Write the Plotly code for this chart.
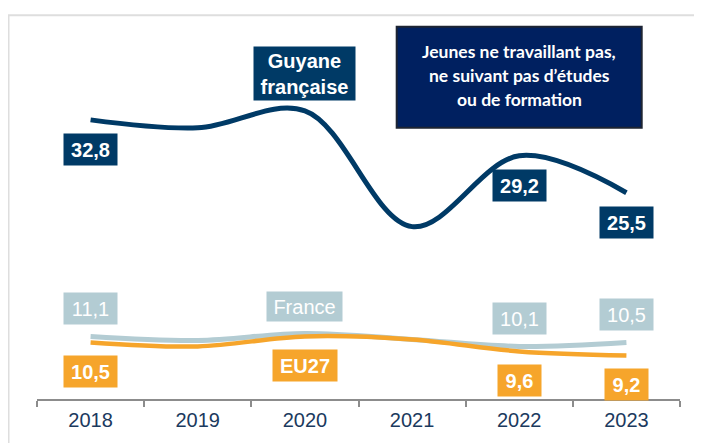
import plotly.graph_objects as go

years = ["2018", "2019", "2020", "2021", "2022", "2023"]
guyane = [32.8, 32.0, 33.7, 22.1, 29.2, 25.5]
france = [11.1, 10.7, 11.4, 10.8, 10.1, 10.5]
eu27 = [10.5, 10.1, 11.1, 10.8, 9.6, 9.2]

guyane_labels = {"2018": "32,8", "2022": "29,2", "2023": "25,5"}
france_labels = {"2018": "11,1", "2022": "10,1", "2023": "10,5"}
eu_labels = {"2018": "10,5", "2022": "9,6", "2023": "9,2"}
title_lines = ["Jeunes ne travaillant pas,", "ne suivant pas d\u2019\u00e9tudes", "ou de formation"]

NAVY = "#003a66"
GRAY = "#b3ccd3"
ORANGE = "#f6a52b"
TICK_COL = "#1b3a5e"

OFF = 8  # default page body margin
W, H = 702 - OFF, 443 - OFF
ML, MR, MT, MB = 37 - OFF, 22, 48 - OFF, 42
PW, PH = W - ML - MR, H - MT - MB


def px(x):
    return (x - OFF - ML) / PW


def py(y):
    return (H - MB - (y - OFF)) / PH


fig = go.Figure()
fig.add_trace(go.Scatter(x=years, y=france, mode="lines", name="France",
                         line=dict(color=GRAY, width=5, shape="spline", smoothing=1.0)))
fig.add_trace(go.Scatter(x=years, y=eu27, mode="lines", name="EU27",
                         line=dict(color=ORANGE, width=4.5, shape="spline", smoothing=1.0)))
fig.add_trace(go.Scatter(x=years, y=guyane, mode="lines", name="Guyane française",
                         line=dict(color=NAVY, width=5, shape="spline", smoothing=1.0)))

annotations = []
LBL_FONT = "Liberation Sans, Arial, sans-serif"


def box(yr, y, text, color, shift, w=53, h=31, bold=True):
    t = f"<b>{text}</b>" if bold else text
    annotations.append(dict(x=years.index(yr), y=y, xref="x", yref="y", text=t, showarrow=False,
                            yshift=shift, bgcolor=color, width=w, height=h, borderpad=0,
                            font=dict(family=LBL_FONT, size=20, color="white"),
                            align="center", valign="middle"))


for yr, t in guyane_labels.items():
    box(yr, guyane[years.index(yr)], t, NAVY, -30)
for yr, t in france_labels.items():
    box(yr, france[years.index(yr)], t, GRAY, 28, bold=False)
for yr, t in eu_labels.items():
    w = 53 if len(t) > 3 else 43
    box(yr, eu27[years.index(yr)], t, ORANGE, -29, w=w)

# series name labels
box("2020", guyane[2], "Guyane<br>française", NAVY, 37, w=101, h=53)
box("2020", france[2], "France", GRAY, 27, w=75, h=29, bold=False)
box("2020", eu27[2], "EU27", ORANGE, -29, w=64, h=31)

# title box text
for i, line in enumerate(title_lines):
    annotations.append(dict(x=px(519.2), y=py(52 + i * 24), xref="paper", yref="paper",
                            text=f"<b>{line}</b>", showarrow=False,
                            font=dict(family="Lato, Open Sans, sans-serif", size=17.5, color="white"),
                            xanchor="center", yanchor="middle"))

shapes = [
    dict(type="rect", xref="paper", yref="paper", x0=px(396.7), x1=px(641.7),
         y0=py(128.3), y1=py(26.7), fillcolor="#002060",
         line=dict(color="#1d2433", width=2), layer="below"),
    dict(type="path", xref="paper", yref="paper",
         path=f"M {px(8.5)} {py(460)} L {px(8.5)} {py(15)} L {px(720)} {py(15)}",
         line=dict(color="#dedede", width=2)),
]

fig.update_layout(
    width=W, height=H,
    margin=dict(l=ML, r=MR, t=MT, b=MB, pad=0),
    paper_bgcolor="white", plot_bgcolor="white",
    showlegend=False,
    annotations=annotations,
    shapes=shapes,
    xaxis=dict(type="category", range=[-0.5, 5.5], showgrid=False, zeroline=False,
               showline=True, linecolor="#8c8c8c", linewidth=1.5,
               ticks="outside", tickson="boundaries", ticklen=6, tickcolor="#8c8c8c",
               tickwidth=1.5, ticklabelstandoff=2,
               tickfont=dict(family=LBL_FONT, size=20, color=TICK_COL)),
    yaxis=dict(range=[4.83, 40.0], visible=False, showgrid=False, zeroline=False),
)

fig.write_html("out.html")
